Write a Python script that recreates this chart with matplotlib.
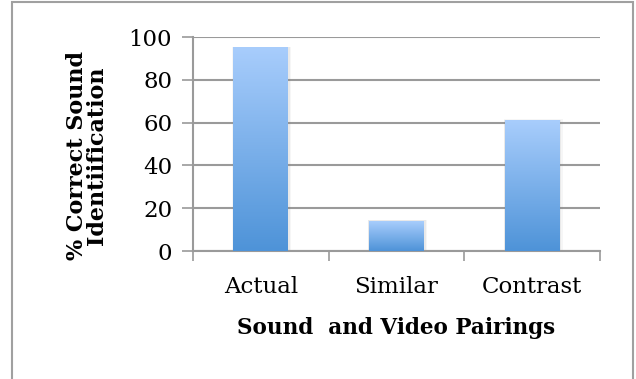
import numpy as np
import matplotlib
matplotlib.use("Agg")
import matplotlib.pyplot as plt
from matplotlib.patches import Rectangle
from matplotlib.colors import LinearSegmentedColormap

categories = ["Actual", "Similar", "Contrast"]
values = [95, 14, 61]
y_ticks = [0, 20, 40, 60, 80, 100]
x_title = "Sound  and Video Pairings"
y_title = "% Correct Sound\nIdentiification"

W, H = 636, 379
fig = plt.figure(figsize=(W / 100, H / 100), dpi=100)
ax = fig.add_axes([193 / W, 1 - 251 / H, (600 - 193) / W, (251 - 37) / H])

font = "DejaVu Serif"
grid_c = "#9a9a9a"

x = np.arange(len(categories))
bars = ax.bar(x, values, width=0.405, color="none", zorder=3)

# vertical gradient fill, light at the top, deeper blue at the bottom
cmap = LinearSegmentedColormap.from_list("bar", ["#4e93d8", "#a8cdfc"])
grad = np.linspace(0, 1, 256).reshape(-1, 1)
for b in bars:
    x0, w, h = b.get_x(), b.get_width(), b.get_height()
    # soft drop shadow behind each bar
    for k, a in ((0.018, 0.07), (0.010, 0.10)):
        ax.add_patch(Rectangle((x0 - k * 0.4, 0), w + k * 1.6, h + k * 30,
                               facecolor="#808080", alpha=a, edgecolor="none",
                               zorder=2))
    ax.imshow(grad, cmap=cmap, origin="lower", aspect="auto",
              extent=(x0, x0 + w, 0, h), zorder=3, interpolation="bilinear")

ax.set_xlim(-0.5, len(categories) - 0.5)
ax.set_ylim(0, 100)

ax.set_yticks(y_ticks)
ax.yaxis.grid(True, color=grid_c, linewidth=1.5, zorder=0)
ax.set_axisbelow(True)
ax.tick_params(axis="y", length=8, width=1.2, color=grid_c, pad=7,
               labelsize=16.5, labelfontfamily=font)

ax.set_xticks(x)
ax.set_xticklabels(categories)
ax.set_xticks(np.arange(len(categories) + 1) - 0.5, minor=True)
ax.tick_params(axis="x", which="major", length=0, pad=18,
               labelsize=16.5, labelfontfamily=font)
ax.tick_params(axis="x", which="minor", length=7, width=1.2, color=grid_c)

for side in ("top", "right"):
    ax.spines[side].set_visible(False)
for side in ("left", "bottom"):
    ax.spines[side].set_color(grid_c)
    ax.spines[side].set_linewidth(1.5)

ax.set_xlabel(x_title, fontfamily=font, fontweight="bold", fontsize=15.5, labelpad=14)
ax.set_ylabel(y_title, fontfamily=font, fontweight="bold", fontsize=16,
              linespacing=0.88)
ax.yaxis.set_label_coords(-0.209, 0.444)

# outer chart frame
fig.patches.append(Rectangle((12 / W, -0.1), (633 - 12) / W, 1.1 - 2 / H,
                             transform=fig.transFigure, fill=False,
                             edgecolor="#a0a0a0", linewidth=1.5))

fig.savefig("out.png", dpi=100)
